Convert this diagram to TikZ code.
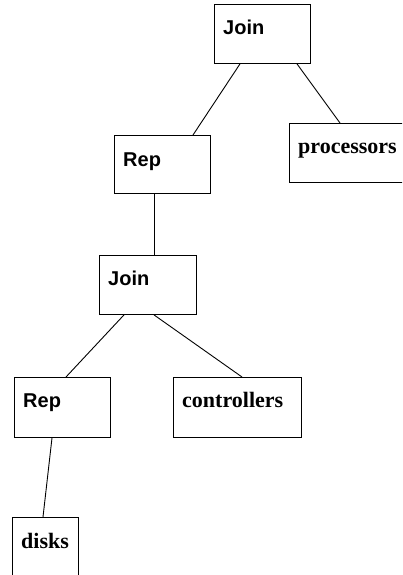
\documentclass[tikz,border=0pt]{standalone}
\usepackage{fontspec}
\newfontfamily\labelsans{Liberation Sans}
\newfontfamily\labelserif{Liberation Serif}
\begin{document}
\begin{tikzpicture}[x=1pt,y=1pt,
  box/.style={draw,line width=0.9pt,rectangle,inner sep=0pt,anchor=north west},
  optext/.style={anchor=base west,inner sep=0pt,font=\labelsans\bfseries\fontsize{20}{24}\selectfont},
  leaftext/.style={anchor=base west,inner sep=0pt,font=\labelserif\bfseries\fontsize{22}{26}\selectfont},
  edge/.style={line width=0.9pt}]
\useasboundingbox (0,0) rectangle (402,575);
\begin{scope}
\clip (0,0) rectangle (402,575);
% operator and leaf boxes (top-left corners, y measured upward)
\node[box,minimum width=96,minimum height=59] (join1) at (214,571) {};
\node[box,minimum width=130,minimum height=59] (proc) at (289,452) {};
\node[box,minimum width=96,minimum height=58] (rep1) at (114,440) {};
\node[box,minimum width=97,minimum height=59] (join2) at (99,320) {};
\node[box,minimum width=96,minimum height=60] (rep2) at (14,198) {};
\node[box,minimum width=128,minimum height=60] (ctrl) at (173,198) {};
\node[box,minimum width=66,minimum height=70] (disks) at (12,58) {};
\end{scope}
% labels set near the top-left of each box
\node[optext] (tj1) at ([xshift=9,yshift=-31]join1.north west) {Join};
\node[leaftext] (tp) at ([xshift=9,yshift=-31]proc.north west) {processors};
\node[optext] (tr1) at ([xshift=9,yshift=-32]rep1.north west) {Rep};
\node[optext] (tj2) at ([xshift=9,yshift=-31]join2.north west) {Join};
\node[optext] (tr2) at ([xshift=9,yshift=-31]rep2.north west) {Rep};
\node[leaftext] (tc) at ([xshift=9,yshift=-31]ctrl.north west) {controllers};
\node[leaftext] (td) at ([xshift=9,yshift=-31]disks.north west) {disks};
% tree edges
\draw[edge] ([xshift=26]join1.south west) -- ([xshift=79]rep1.north west);
\draw[edge] ([xshift=83]join1.south west) -- ([xshift=51]proc.north west);
\draw[edge] ([xshift=40]rep1.south west) -- ([xshift=55]join2.north west);
\draw[edge] ([xshift=25]join2.south west) -- ([xshift=52]rep2.north west);
\draw[edge] ([xshift=55]join2.south west) -- ([xshift=69]ctrl.north west);
\draw[edge] ([xshift=38]rep2.south west) -- ([xshift=31]disks.north west);
\end{tikzpicture}
\end{document}
